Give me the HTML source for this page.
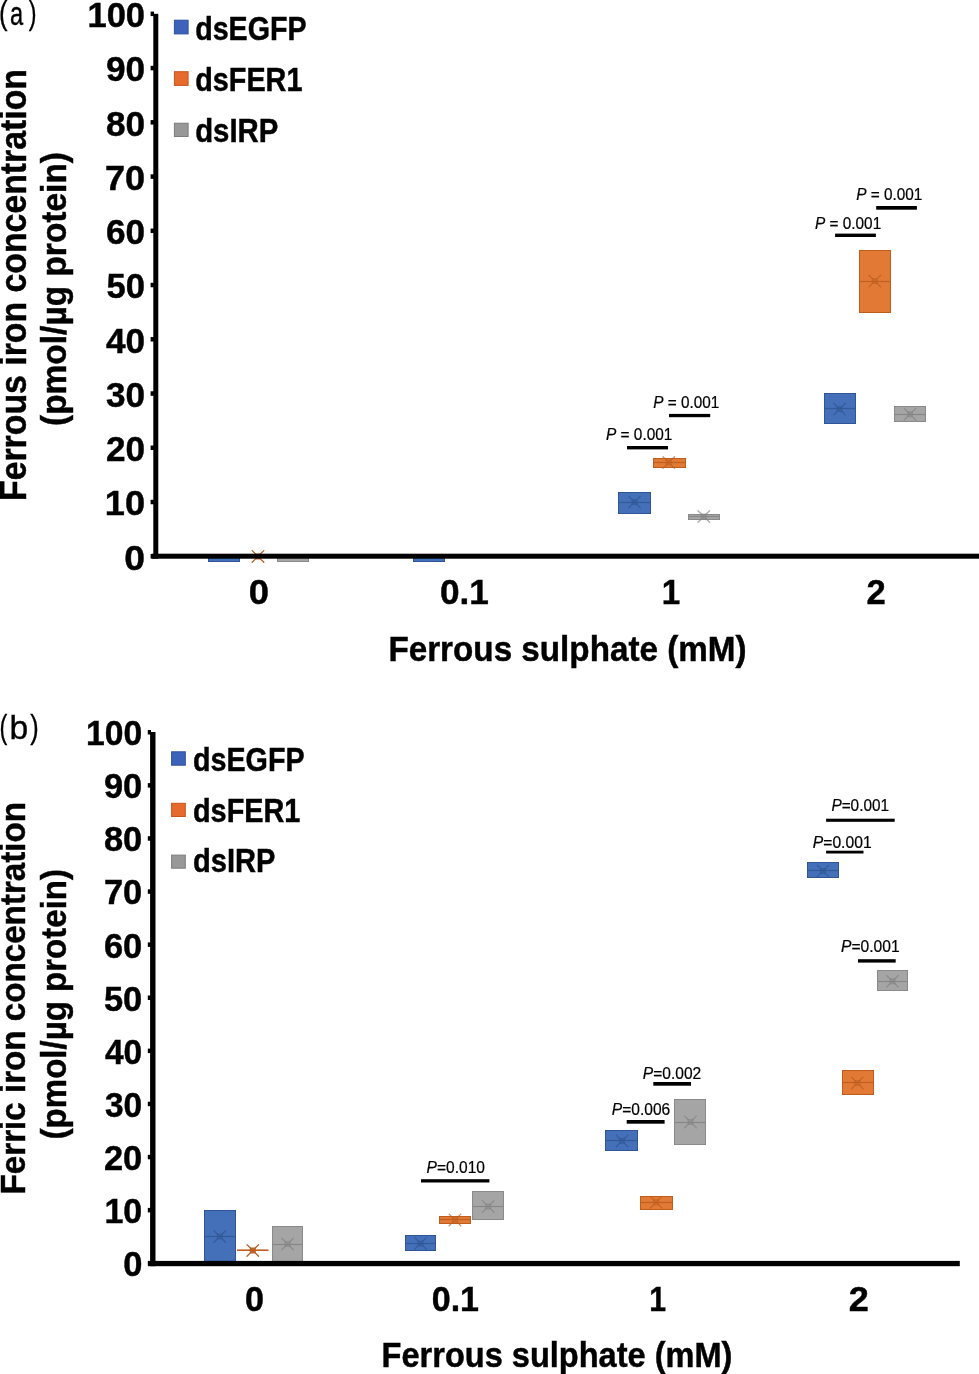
<!DOCTYPE html>
<html><head><meta charset="utf-8"><style>
html,body{margin:0;padding:0;background:#fff;width:979px;height:1374px;overflow:hidden}
svg{display:block;will-change:transform}
</style></head><body>
<svg width="979" height="1374" viewBox="0 0 979 1374" font-family="'Liberation Sans', sans-serif" fill="#000">
<rect width="979" height="1374" fill="#fff"/>
<text stroke="#000" stroke-width="0.35" x="-0.90" y="24.00" font-size="33.5" font-weight="normal" textLength="8.55" lengthAdjust="spacingAndGlyphs">(</text>
<text stroke="#000" stroke-width="0.35" x="10.11" y="25.20" font-size="33.5" font-weight="normal" textLength="13.20" lengthAdjust="spacingAndGlyphs">a</text>
<text stroke="#000" stroke-width="0.35" x="28.74" y="24.00" font-size="33.5" font-weight="normal" textLength="7.78" lengthAdjust="spacingAndGlyphs">)</text>
<rect x="174.4" y="20.20" width="13.7" height="13.70" fill="#3C62BA" stroke="#2E50A0" stroke-width="1"/>
<text stroke="#000" stroke-width="0.45" x="195.19" y="39.50" font-size="33.2" font-weight="bold" textLength="111.42" lengthAdjust="spacingAndGlyphs">dsEGFP</text>
<rect x="174.4" y="71.70" width="13.7" height="13.70" fill="#E56A2B" stroke="#C7561D" stroke-width="1"/>
<text stroke="#000" stroke-width="0.45" x="195.19" y="90.70" font-size="33.2" font-weight="bold" textLength="107.21" lengthAdjust="spacingAndGlyphs">dsFER1</text>
<rect x="174.4" y="123.20" width="13.7" height="13.30" fill="#989898" stroke="#7E7E7E" stroke-width="1"/>
<text stroke="#000" stroke-width="0.45" x="195.18" y="141.90" font-size="33.2" font-weight="bold" textLength="83.25" lengthAdjust="spacingAndGlyphs">dsIRP</text>
<text stroke="#000" stroke-width="0.45" x="124.39" y="569.50" font-size="34.6" font-weight="bold" textLength="20.75" lengthAdjust="spacingAndGlyphs">0</text>
<rect x="150.60" y="554.00" width="3.40" height="4.50" fill="#000"/>
<text stroke="#000" stroke-width="0.45" x="104.86" y="515.26" font-size="34.6" font-weight="bold" textLength="40.21" lengthAdjust="spacingAndGlyphs">10</text>
<rect x="150.60" y="499.76" width="3.40" height="4.50" fill="#000"/>
<text stroke="#000" stroke-width="0.45" x="105.95" y="461.02" font-size="34.6" font-weight="bold" textLength="39.10" lengthAdjust="spacingAndGlyphs">20</text>
<rect x="150.60" y="445.52" width="3.40" height="4.50" fill="#000"/>
<text stroke="#000" stroke-width="0.45" x="105.95" y="406.78" font-size="34.6" font-weight="bold" textLength="39.10" lengthAdjust="spacingAndGlyphs">30</text>
<rect x="150.60" y="391.28" width="3.40" height="4.50" fill="#000"/>
<text stroke="#000" stroke-width="0.45" x="105.95" y="352.54" font-size="34.6" font-weight="bold" textLength="39.10" lengthAdjust="spacingAndGlyphs">40</text>
<rect x="150.60" y="337.04" width="3.40" height="4.50" fill="#000"/>
<text stroke="#000" stroke-width="0.45" x="106.54" y="298.30" font-size="34.6" font-weight="bold" textLength="38.51" lengthAdjust="spacingAndGlyphs">50</text>
<rect x="150.60" y="282.80" width="3.40" height="4.50" fill="#000"/>
<text stroke="#000" stroke-width="0.45" x="105.95" y="244.06" font-size="34.6" font-weight="bold" textLength="39.10" lengthAdjust="spacingAndGlyphs">60</text>
<rect x="150.60" y="228.56" width="3.40" height="4.50" fill="#000"/>
<text stroke="#000" stroke-width="0.45" x="104.92" y="189.82" font-size="34.6" font-weight="bold" textLength="40.15" lengthAdjust="spacingAndGlyphs">70</text>
<rect x="150.60" y="174.32" width="3.40" height="4.50" fill="#000"/>
<text stroke="#000" stroke-width="0.45" x="105.95" y="135.58" font-size="34.6" font-weight="bold" textLength="39.10" lengthAdjust="spacingAndGlyphs">80</text>
<rect x="150.60" y="120.08" width="3.40" height="4.50" fill="#000"/>
<text stroke="#000" stroke-width="0.45" x="105.95" y="81.34" font-size="34.6" font-weight="bold" textLength="39.10" lengthAdjust="spacingAndGlyphs">90</text>
<rect x="150.60" y="65.84" width="3.40" height="4.50" fill="#000"/>
<text stroke="#000" stroke-width="0.45" x="87.54" y="27.10" font-size="34.6" font-weight="bold" textLength="57.51" lengthAdjust="spacingAndGlyphs">100</text>
<rect x="150.60" y="11.60" width="3.40" height="4.50" fill="#000"/>
<rect x="208.50" y="555.50" width="31.00" height="6.00" fill="#4470B9" stroke="#2F5597" stroke-width="1"/>
<rect x="277.50" y="555.50" width="31.00" height="6.00" fill="#A5A5A5" stroke="#8A8A8A" stroke-width="1"/>
<rect x="413.50" y="555.50" width="31.00" height="6.00" fill="#4470B9" stroke="#2F5597" stroke-width="1"/>
<g><path d="M252.20 550.60L255.80 554.20M263.80 550.60L260.20 554.20M252.20 562.20L255.80 558.60M263.80 562.20L260.20 558.60" stroke="#B85C20" stroke-width="1.3" stroke-linecap="round" opacity="1.00"/><rect x="255.00" y="553.40" width="6" height="6" rx="1.2" fill="#B85C20" opacity="0.95"/></g>
<rect x="618.50" y="492.50" width="32.00" height="21.00" fill="#4470B9" stroke="#2F5597" stroke-width="1"/>
<line x1="619.00" x2="650.00" y1="502.50" y2="502.50" stroke="#2E5490" stroke-width="1.2" opacity="0.8"/>
<g><path d="M628.70 496.30L632.30 499.90M640.30 496.30L636.70 499.90M628.70 507.90L632.30 504.30M640.30 507.90L636.70 504.30" stroke="#2E5490" stroke-width="1.3" stroke-linecap="round" opacity="0.66"/><rect x="631.50" y="499.10" width="6" height="6" rx="1.2" fill="#2E5490" opacity="0.55"/></g>
<rect x="653.50" y="458.50" width="32.00" height="9.00" fill="#E27934" stroke="#BF5E1C" stroke-width="1"/>
<line x1="654.00" x2="685.00" y1="462.50" y2="462.50" stroke="#B85C20" stroke-width="1.2" opacity="0.8"/>
<g><path d="M663.00 456.80L666.60 460.40M674.60 456.80L671.00 460.40M663.00 468.40L666.60 464.80M674.60 468.40L671.00 464.80" stroke="#B85C20" stroke-width="1.3" stroke-linecap="round" opacity="0.66"/><rect x="665.80" y="459.60" width="6" height="6" rx="1.2" fill="#B85C20" opacity="0.55"/></g>
<rect x="688.50" y="514.50" width="31.00" height="5.00" fill="#A5A5A5" stroke="#8A8A8A" stroke-width="1"/>
<line x1="689.00" x2="719.00" y1="516.50" y2="516.50" stroke="#808080" stroke-width="1.2" opacity="0.8"/>
<g><path d="M698.00 510.70L701.60 514.30M709.60 510.70L706.00 514.30M698.00 522.30L701.60 518.70M709.60 522.30L706.00 518.70" stroke="#808080" stroke-width="1.3" stroke-linecap="round" opacity="0.66"/><rect x="700.80" y="513.50" width="6" height="6" rx="1.2" fill="#808080" opacity="0.55"/></g>
<rect x="824.50" y="393.50" width="31.00" height="30.00" fill="#4470B9" stroke="#2F5597" stroke-width="1"/>
<line x1="825.00" x2="855.00" y1="408.50" y2="408.50" stroke="#2E5490" stroke-width="1.2" opacity="0.8"/>
<g><path d="M833.70 403.30L837.30 406.90M845.30 403.30L841.70 406.90M833.70 414.90L837.30 411.30M845.30 414.90L841.70 411.30" stroke="#2E5490" stroke-width="1.3" stroke-linecap="round" opacity="0.66"/><rect x="836.50" y="406.10" width="6" height="6" rx="1.2" fill="#2E5490" opacity="0.55"/></g>
<rect x="859.50" y="250.50" width="31.00" height="62.00" fill="#E27934" stroke="#BF5E1C" stroke-width="1"/>
<line x1="860.00" x2="890.00" y1="281.50" y2="281.50" stroke="#B85C20" stroke-width="1.2" opacity="0.8"/>
<g><path d="M869.00 275.30L872.60 278.90M880.60 275.30L877.00 278.90M869.00 286.90L872.60 283.30M880.60 286.90L877.00 283.30" stroke="#B85C20" stroke-width="1.3" stroke-linecap="round" opacity="0.66"/><rect x="871.80" y="278.10" width="6" height="6" rx="1.2" fill="#B85C20" opacity="0.55"/></g>
<rect x="894.50" y="406.50" width="31.00" height="15.00" fill="#A5A5A5" stroke="#8A8A8A" stroke-width="1"/>
<line x1="895.00" x2="925.00" y1="414.50" y2="414.50" stroke="#808080" stroke-width="1.2" opacity="0.8"/>
<g><path d="M904.20 408.40L907.80 412.00M915.80 408.40L912.20 412.00M904.20 420.00L907.80 416.40M915.80 420.00L912.20 416.40" stroke="#808080" stroke-width="1.3" stroke-linecap="round" opacity="0.66"/><rect x="907.00" y="411.20" width="6" height="6" rx="1.2" fill="#808080" opacity="0.55"/></g>
<rect x="153.30" y="13.80" width="5.00" height="544.90" fill="#000"/>
<rect x="151.50" y="553.70" width="827.50" height="5.00" fill="#000"/>
<text stroke="#000" stroke-width="0.45" x="248.88" y="604.40" font-size="34.6" font-weight="bold" textLength="20.25" lengthAdjust="spacingAndGlyphs">0</text>
<text stroke="#000" stroke-width="0.45" x="439.95" y="604.40" font-size="34.6" font-weight="bold" textLength="48.87" lengthAdjust="spacingAndGlyphs">0.1</text>
<text stroke="#000" stroke-width="0.45" x="661.82" y="604.40" font-size="34.6" font-weight="bold" textLength="18.45" lengthAdjust="spacingAndGlyphs">1</text>
<text stroke="#000" stroke-width="0.45" x="866.49" y="604.40" font-size="34.6" font-weight="bold" textLength="19.22" lengthAdjust="spacingAndGlyphs">2</text>
<text stroke="#000" stroke-width="0.45" x="388.38" y="661.30" font-size="34.9" font-weight="bold" textLength="358.23" lengthAdjust="spacingAndGlyphs">Ferrous sulphate (mM)</text>
<text transform="translate(25.70,501.02) rotate(-90)" x="0" y="0" font-size="36" font-weight="bold" stroke="#000" stroke-width="0.45" textLength="432.04" lengthAdjust="spacingAndGlyphs">Ferrous iron concentration</text>
<text transform="translate(66.30,426.01) rotate(-90)" x="0" y="0" font-size="35" font-weight="bold" stroke="#000" stroke-width="0.45" textLength="274.01" lengthAdjust="spacingAndGlyphs">(pmol/µg protein)</text>
<text stroke="#000" stroke-width="0.22" x="606.00" y="439.80" font-size="16.4" textLength="66.42" lengthAdjust="spacingAndGlyphs"><tspan font-style="italic">P</tspan> = 0.001</text>
<rect x="627.00" y="446.00" width="41.00" height="3.40" fill="#000"/>
<text stroke="#000" stroke-width="0.22" x="653.20" y="407.90" font-size="16.4" textLength="66.02" lengthAdjust="spacingAndGlyphs"><tspan font-style="italic">P</tspan> = 0.001</text>
<rect x="669.00" y="413.90" width="41.20" height="3.30" fill="#000"/>
<text stroke="#000" stroke-width="0.22" x="814.97" y="229.30" font-size="16.4" textLength="66.24" lengthAdjust="spacingAndGlyphs"><tspan font-style="italic">P</tspan> = 0.001</text>
<rect x="835.10" y="233.60" width="40.80" height="3.40" fill="#000"/>
<text stroke="#000" stroke-width="0.22" x="856.17" y="199.90" font-size="16.4" textLength="66.25" lengthAdjust="spacingAndGlyphs"><tspan font-style="italic">P</tspan> = 0.001</text>
<rect x="876.20" y="206.00" width="40.70" height="3.70" fill="#000"/>
<text stroke="#000" stroke-width="0.35" x="-0.55" y="738.00" font-size="33.5" font-weight="normal" textLength="7.79" lengthAdjust="spacingAndGlyphs">(</text>
<text stroke="#000" stroke-width="0.35" x="9.49" y="739.00" font-size="33.5" font-weight="normal" textLength="18.74" lengthAdjust="spacingAndGlyphs">b</text>
<text stroke="#000" stroke-width="0.35" x="30.27" y="738.00" font-size="33.5" font-weight="normal" textLength="8.46" lengthAdjust="spacingAndGlyphs">)</text>
<rect x="171.6" y="751.80" width="13.7" height="13.40" fill="#3C62BA" stroke="#2E50A0" stroke-width="1"/>
<text stroke="#000" stroke-width="0.45" x="192.98" y="771.00" font-size="33.4" font-weight="bold" textLength="111.63" lengthAdjust="spacingAndGlyphs">dsEGFP</text>
<rect x="171.6" y="803.30" width="13.7" height="13.20" fill="#E56A2B" stroke="#C7561D" stroke-width="1"/>
<text stroke="#000" stroke-width="0.45" x="192.98" y="821.50" font-size="33.4" font-weight="bold" textLength="107.43" lengthAdjust="spacingAndGlyphs">dsFER1</text>
<rect x="171.6" y="855.10" width="13.7" height="13.10" fill="#989898" stroke="#7E7E7E" stroke-width="1"/>
<text stroke="#000" stroke-width="0.45" x="192.97" y="872.20" font-size="33.4" font-weight="bold" textLength="82.44" lengthAdjust="spacingAndGlyphs">dsIRP</text>
<text stroke="#000" stroke-width="0.45" x="123.13" y="1276.10" font-size="35.2" font-weight="bold" textLength="19.18" lengthAdjust="spacingAndGlyphs">0</text>
<rect x="147.80" y="1261.00" width="3.20" height="4.50" fill="#000"/>
<text stroke="#000" stroke-width="0.45" x="104.44" y="1223.00" font-size="35.2" font-weight="bold" textLength="37.82" lengthAdjust="spacingAndGlyphs">10</text>
<rect x="147.80" y="1207.90" width="3.20" height="4.50" fill="#000"/>
<text stroke="#000" stroke-width="0.45" x="103.95" y="1169.90" font-size="35.2" font-weight="bold" textLength="38.31" lengthAdjust="spacingAndGlyphs">20</text>
<rect x="147.80" y="1154.80" width="3.20" height="4.50" fill="#000"/>
<text stroke="#000" stroke-width="0.45" x="105.00" y="1116.80" font-size="35.2" font-weight="bold" textLength="37.24" lengthAdjust="spacingAndGlyphs">30</text>
<rect x="147.80" y="1101.70" width="3.20" height="4.50" fill="#000"/>
<text stroke="#000" stroke-width="0.45" x="105.00" y="1063.70" font-size="35.2" font-weight="bold" textLength="37.24" lengthAdjust="spacingAndGlyphs">40</text>
<rect x="147.80" y="1048.60" width="3.20" height="4.50" fill="#000"/>
<text stroke="#000" stroke-width="0.45" x="103.95" y="1010.60" font-size="35.2" font-weight="bold" textLength="38.31" lengthAdjust="spacingAndGlyphs">50</text>
<rect x="147.80" y="995.50" width="3.20" height="4.50" fill="#000"/>
<text stroke="#000" stroke-width="0.45" x="103.95" y="957.50" font-size="35.2" font-weight="bold" textLength="38.31" lengthAdjust="spacingAndGlyphs">60</text>
<rect x="147.80" y="942.40" width="3.20" height="4.50" fill="#000"/>
<text stroke="#000" stroke-width="0.45" x="103.95" y="904.40" font-size="35.2" font-weight="bold" textLength="38.31" lengthAdjust="spacingAndGlyphs">70</text>
<rect x="147.80" y="889.30" width="3.20" height="4.50" fill="#000"/>
<text stroke="#000" stroke-width="0.45" x="103.95" y="851.30" font-size="35.2" font-weight="bold" textLength="38.31" lengthAdjust="spacingAndGlyphs">80</text>
<rect x="147.80" y="836.20" width="3.20" height="4.50" fill="#000"/>
<text stroke="#000" stroke-width="0.45" x="103.95" y="798.20" font-size="35.2" font-weight="bold" textLength="38.31" lengthAdjust="spacingAndGlyphs">90</text>
<rect x="147.80" y="783.10" width="3.20" height="4.50" fill="#000"/>
<text stroke="#000" stroke-width="0.45" x="86.10" y="745.10" font-size="35.2" font-weight="bold" textLength="56.15" lengthAdjust="spacingAndGlyphs">100</text>
<rect x="147.80" y="730.00" width="3.20" height="4.50" fill="#000"/>
<rect x="204.50" y="1210.50" width="31.00" height="51.00" fill="#4470B9" stroke="#2F5597" stroke-width="1"/>
<line x1="205.00" x2="235.00" y1="1236.50" y2="1236.50" stroke="#2E5490" stroke-width="1.2" opacity="0.8"/>
<g><path d="M214.00 1230.70L217.60 1234.30M225.60 1230.70L222.00 1234.30M214.00 1242.30L217.60 1238.70M225.60 1242.30L222.00 1238.70" stroke="#2E5490" stroke-width="1.3" stroke-linecap="round" opacity="0.66"/><rect x="216.80" y="1233.50" width="6" height="6" rx="1.2" fill="#2E5490" opacity="0.55"/></g>
<line x1="237" x2="268.5" y1="1250.2" y2="1250.2" stroke="#BF5E1C" stroke-width="1.6"/>
<g><path d="M247.00 1244.60L250.60 1248.20M258.60 1244.60L255.00 1248.20M247.00 1256.20L250.60 1252.60M258.60 1256.20L255.00 1252.60" stroke="#B85C20" stroke-width="1.3" stroke-linecap="round" opacity="1.00"/><rect x="249.80" y="1247.40" width="6" height="6" rx="1.2" fill="#B85C20" opacity="0.95"/></g>
<rect x="272.50" y="1226.50" width="30.00" height="35.00" fill="#A5A5A5" stroke="#8A8A8A" stroke-width="1"/>
<line x1="273.00" x2="302.00" y1="1244.50" y2="1244.50" stroke="#808080" stroke-width="1.2" opacity="0.8"/>
<g><path d="M281.80 1238.20L285.40 1241.80M293.40 1238.20L289.80 1241.80M281.80 1249.80L285.40 1246.20M293.40 1249.80L289.80 1246.20" stroke="#808080" stroke-width="1.3" stroke-linecap="round" opacity="0.66"/><rect x="284.60" y="1241.00" width="6" height="6" rx="1.2" fill="#808080" opacity="0.55"/></g>
<rect x="405.50" y="1235.50" width="30.00" height="15.00" fill="#4470B9" stroke="#2F5597" stroke-width="1"/>
<line x1="406.00" x2="435.00" y1="1243.50" y2="1243.50" stroke="#2E5490" stroke-width="1.2" opacity="0.8"/>
<g><path d="M414.70 1237.60L418.30 1241.20M426.30 1237.60L422.70 1241.20M414.70 1249.20L418.30 1245.60M426.30 1249.20L422.70 1245.60" stroke="#2E5490" stroke-width="1.3" stroke-linecap="round" opacity="0.66"/><rect x="417.50" y="1240.40" width="6" height="6" rx="1.2" fill="#2E5490" opacity="0.55"/></g>
<rect x="439.50" y="1216.50" width="31.00" height="7.00" fill="#E27934" stroke="#BF5E1C" stroke-width="1"/>
<line x1="440.00" x2="470.00" y1="1219.50" y2="1219.50" stroke="#B85C20" stroke-width="1.2" opacity="0.8"/>
<g><path d="M449.20 1214.10L452.80 1217.70M460.80 1214.10L457.20 1217.70M449.20 1225.70L452.80 1222.10M460.80 1225.70L457.20 1222.10" stroke="#B85C20" stroke-width="1.3" stroke-linecap="round" opacity="0.66"/><rect x="452.00" y="1216.90" width="6" height="6" rx="1.2" fill="#B85C20" opacity="0.55"/></g>
<rect x="472.50" y="1191.50" width="31.00" height="28.00" fill="#A5A5A5" stroke="#8A8A8A" stroke-width="1"/>
<line x1="473.00" x2="503.00" y1="1206.50" y2="1206.50" stroke="#808080" stroke-width="1.2" opacity="0.8"/>
<g><path d="M482.40 1200.60L486.00 1204.20M494.00 1200.60L490.40 1204.20M482.40 1212.20L486.00 1208.60M494.00 1212.20L490.40 1208.60" stroke="#808080" stroke-width="1.3" stroke-linecap="round" opacity="0.66"/><rect x="485.20" y="1203.40" width="6" height="6" rx="1.2" fill="#808080" opacity="0.55"/></g>
<rect x="605.50" y="1130.50" width="32.00" height="20.00" fill="#4470B9" stroke="#2F5597" stroke-width="1"/>
<line x1="606.00" x2="637.00" y1="1140.50" y2="1140.50" stroke="#2E5490" stroke-width="1.2" opacity="0.8"/>
<g><path d="M616.20 1135.10L619.80 1138.70M627.80 1135.10L624.20 1138.70M616.20 1146.70L619.80 1143.10M627.80 1146.70L624.20 1143.10" stroke="#2E5490" stroke-width="1.3" stroke-linecap="round" opacity="0.66"/><rect x="619.00" y="1137.90" width="6" height="6" rx="1.2" fill="#2E5490" opacity="0.55"/></g>
<rect x="640.50" y="1196.50" width="32.00" height="13.00" fill="#E27934" stroke="#BF5E1C" stroke-width="1"/>
<line x1="641.00" x2="672.00" y1="1202.50" y2="1202.50" stroke="#B85C20" stroke-width="1.2" opacity="0.8"/>
<g><path d="M650.30 1196.40L653.90 1200.00M661.90 1196.40L658.30 1200.00M650.30 1208.00L653.90 1204.40M661.90 1208.00L658.30 1204.40" stroke="#B85C20" stroke-width="1.3" stroke-linecap="round" opacity="0.66"/><rect x="653.10" y="1199.20" width="6" height="6" rx="1.2" fill="#B85C20" opacity="0.55"/></g>
<rect x="674.50" y="1099.50" width="31.00" height="45.00" fill="#A5A5A5" stroke="#8A8A8A" stroke-width="1"/>
<line x1="675.00" x2="705.00" y1="1122.50" y2="1122.50" stroke="#808080" stroke-width="1.2" opacity="0.8"/>
<g><path d="M684.70 1116.10L688.30 1119.70M696.30 1116.10L692.70 1119.70M684.70 1127.70L688.30 1124.10M696.30 1127.70L692.70 1124.10" stroke="#808080" stroke-width="1.3" stroke-linecap="round" opacity="0.66"/><rect x="687.50" y="1118.90" width="6" height="6" rx="1.2" fill="#808080" opacity="0.55"/></g>
<rect x="807.50" y="862.50" width="31.00" height="15.00" fill="#4470B9" stroke="#2F5597" stroke-width="1"/>
<line x1="808.00" x2="838.00" y1="870.50" y2="870.50" stroke="#2E5490" stroke-width="1.2" opacity="0.8"/>
<g><path d="M817.20 865.10L820.80 868.70M828.80 865.10L825.20 868.70M817.20 876.70L820.80 873.10M828.80 876.70L825.20 873.10" stroke="#2E5490" stroke-width="1.3" stroke-linecap="round" opacity="0.66"/><rect x="820.00" y="867.90" width="6" height="6" rx="1.2" fill="#2E5490" opacity="0.55"/></g>
<rect x="842.50" y="1070.50" width="31.00" height="24.00" fill="#E27934" stroke="#BF5E1C" stroke-width="1"/>
<line x1="843.00" x2="873.00" y1="1082.50" y2="1082.50" stroke="#B85C20" stroke-width="1.2" opacity="0.8"/>
<g><path d="M851.50 1077.10L855.10 1080.70M863.10 1077.10L859.50 1080.70M851.50 1088.70L855.10 1085.10M863.10 1088.70L859.50 1085.10" stroke="#B85C20" stroke-width="1.3" stroke-linecap="round" opacity="0.66"/><rect x="854.30" y="1079.90" width="6" height="6" rx="1.2" fill="#B85C20" opacity="0.55"/></g>
<rect x="877.50" y="970.50" width="30.00" height="20.00" fill="#A5A5A5" stroke="#8A8A8A" stroke-width="1"/>
<line x1="878.00" x2="907.00" y1="981.50" y2="981.50" stroke="#808080" stroke-width="1.2" opacity="0.8"/>
<g><path d="M886.70 975.50L890.30 979.10M898.30 975.50L894.70 979.10M886.70 987.10L890.30 983.50M898.30 987.10L894.70 983.50" stroke="#808080" stroke-width="1.3" stroke-linecap="round" opacity="0.66"/><rect x="889.50" y="978.30" width="6" height="6" rx="1.2" fill="#808080" opacity="0.55"/></g>
<rect x="150.10" y="732.00" width="5.40" height="534.20" fill="#000"/>
<rect x="148.00" y="1260.90" width="811.80" height="5.30" fill="#000"/>
<text stroke="#000" stroke-width="0.45" x="245.09" y="1310.80" font-size="35.2" font-weight="bold" textLength="19.00" lengthAdjust="spacingAndGlyphs">0</text>
<text stroke="#000" stroke-width="0.45" x="431.75" y="1310.80" font-size="35.2" font-weight="bold" textLength="47.28" lengthAdjust="spacingAndGlyphs">0.1</text>
<text stroke="#000" stroke-width="0.45" x="649.35" y="1310.80" font-size="35.2" font-weight="bold" textLength="16.79" lengthAdjust="spacingAndGlyphs">1</text>
<text stroke="#000" stroke-width="0.45" x="848.88" y="1310.80" font-size="35.2" font-weight="bold" textLength="20.05" lengthAdjust="spacingAndGlyphs">2</text>
<text stroke="#000" stroke-width="0.45" x="381.59" y="1366.60" font-size="34.2" font-weight="bold" textLength="350.82" lengthAdjust="spacingAndGlyphs">Ferrous sulphate (mM)</text>
<text transform="translate(25.30,1194.43) rotate(-90)" x="0" y="0" font-size="35.3" font-weight="bold" stroke="#000" stroke-width="0.45" textLength="392.45" lengthAdjust="spacingAndGlyphs">Ferric iron concentration</text>
<text transform="translate(65.50,1139.42) rotate(-90)" x="0" y="0" font-size="34.4" font-weight="bold" stroke="#000" stroke-width="0.45" textLength="270.45" lengthAdjust="spacingAndGlyphs">(pmol/µg protein)</text>
<text stroke="#000" stroke-width="0.22" x="426.59" y="1172.70" font-size="16.4" textLength="58.43" lengthAdjust="spacingAndGlyphs"><tspan font-style="italic">P</tspan>=0.010</text>
<rect x="421.00" y="1179.20" width="68.40" height="3.30" fill="#000"/>
<text stroke="#000" stroke-width="0.22" x="611.79" y="1114.50" font-size="16.4" textLength="58.41" lengthAdjust="spacingAndGlyphs"><tspan font-style="italic">P</tspan>=0.006</text>
<rect x="626.70" y="1120.00" width="37.90" height="3.70" fill="#000"/>
<text stroke="#000" stroke-width="0.22" x="642.79" y="1079.00" font-size="16.4" textLength="58.41" lengthAdjust="spacingAndGlyphs"><tspan font-style="italic">P</tspan>=0.002</text>
<rect x="653.30" y="1082.00" width="37.70" height="3.70" fill="#000"/>
<text stroke="#000" stroke-width="0.22" x="831.38" y="810.80" font-size="16.4" textLength="57.65" lengthAdjust="spacingAndGlyphs"><tspan font-style="italic">P</tspan>=0.001</text>
<rect x="826.10" y="818.70" width="68.60" height="3.10" fill="#000"/>
<text stroke="#000" stroke-width="0.22" x="812.80" y="847.90" font-size="16.4" textLength="58.82" lengthAdjust="spacingAndGlyphs"><tspan font-style="italic">P</tspan>=0.001</text>
<rect x="826.10" y="850.70" width="37.40" height="2.80" fill="#000"/>
<text stroke="#000" stroke-width="0.22" x="841.00" y="952.10" font-size="16.4" textLength="58.63" lengthAdjust="spacingAndGlyphs"><tspan font-style="italic">P</tspan>=0.001</text>
<rect x="858.00" y="959.20" width="37.70" height="3.40" fill="#000"/>
</svg>
</body></html>
